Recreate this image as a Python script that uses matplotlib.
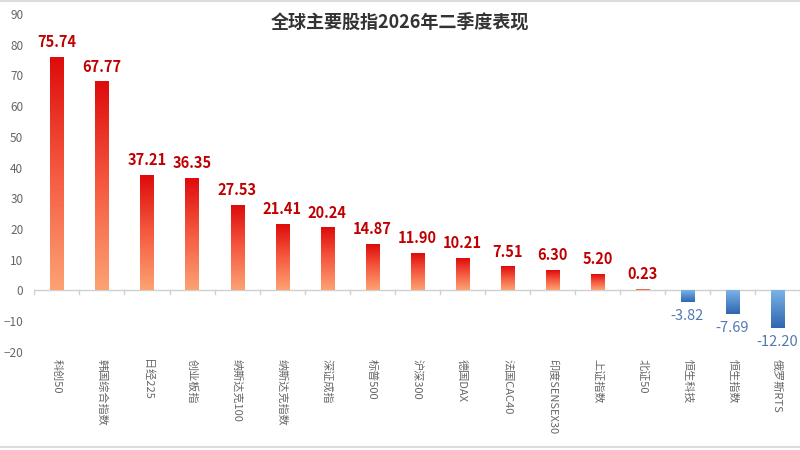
import numpy as np
import matplotlib.pyplot as plt
from matplotlib.colors import LinearSegmentedColormap

plt.rcParams['font.family'] = ['Noto Sans CJK SC', 'DejaVu Sans']

names = ['科创50', '韩国综合指数', '日经225', '创业板指', '纳斯达克100', '纳斯达克指数',
         '深证成指', '标普500', '沪深300', '德国DAX', '法国CAC40', '印度SENSEX30',
         '上证指数', '北证50', '恒生科技', '恒生指数', '俄罗斯RTS']
values = [75.74, 67.77, 37.21, 36.35, 27.53, 21.41, 20.24, 14.87, 11.90, 10.21,
          7.51, 6.30, 5.20, 0.23, -3.82, -7.69, -12.20]
yticks = [-20, -10, 0, 10, 20, 30, 40, 50, 60, 70, 80, 90]

red_cmap = LinearSegmentedColormap.from_list('red', ['#fca272', '#f55a40', '#de0c0c'])
blue_cmap = LinearSegmentedColormap.from_list('blue', ['#2f66b0', '#7ab2e8'])

fig = plt.figure(figsize=(8, 4.5), dpi=100)
ax = fig.add_axes([0.043, 0.218, 0.957, 0.751])

x = np.arange(len(names))
bars = ax.bar(x, values, width=0.29, color='none')
grad = np.linspace(0, 1, 100).reshape(-1, 1)
for rect, v in zip(bars, values):
    x0 = rect.get_x()
    x1 = x0 + rect.get_width()
    cmap = red_cmap if v >= 0 else blue_cmap
    ax.imshow(grad, cmap=cmap, origin='lower', aspect='auto',
              extent=[x0, x1, min(0, v), max(0, v)], zorder=2)
    if v >= 0:
        ax.text(rect.get_x() + rect.get_width() / 2, v + 2.5, f'{v:.2f}',
                ha='center', va='bottom', fontsize=10.5, fontweight='bold', color='#c00000')
    else:
        ax.text(rect.get_x() + rect.get_width() / 2, v - 2.2, f'{v:.2f}',
                ha='center', va='top', fontsize=10.5, color='#5479b0')

ax.set_xlim(-0.5, len(names) - 0.5)
ax.set_ylim(-20, 90)
ax.set_yticks(yticks)
ax.tick_params(axis='y', length=0, labelsize=8.5, labelcolor='#666666', pad=8)

for s in ['top', 'right', 'left', 'bottom']:
    ax.spines[s].set_visible(False)
ax.axhline(0, color='#d0d0d0', lw=1, zorder=1)
# small separators on the zero line
for b in np.arange(-0.5, len(names), 1):
    ax.plot([b, b], [0, -1.3], color='#d0d0d0', lw=1, zorder=1)

ax.set_xticks([])
trans = ax.get_xaxis_transform()
for xi, n in zip(x, names):
    ax.text(xi, -0.02, n, transform=trans, rotation=270, ha='center', va='top',
            fontsize=8, color='#666666')

fig.text(0.5, 0.95, '全球主要股指2026年二季度表现', ha='center', va='center',
         fontsize=13, fontweight='bold', color='#333333')

# light frame lines at top and bottom of the picture
fig.add_artist(plt.Line2D([0, 1], [0.998, 0.998], color='#dddddd', lw=1.5))
fig.add_artist(plt.Line2D([0, 1], [0.006, 0.006], color='#dddddd', lw=1.5))

fig.savefig('out.png', dpi=100, facecolor='white')
